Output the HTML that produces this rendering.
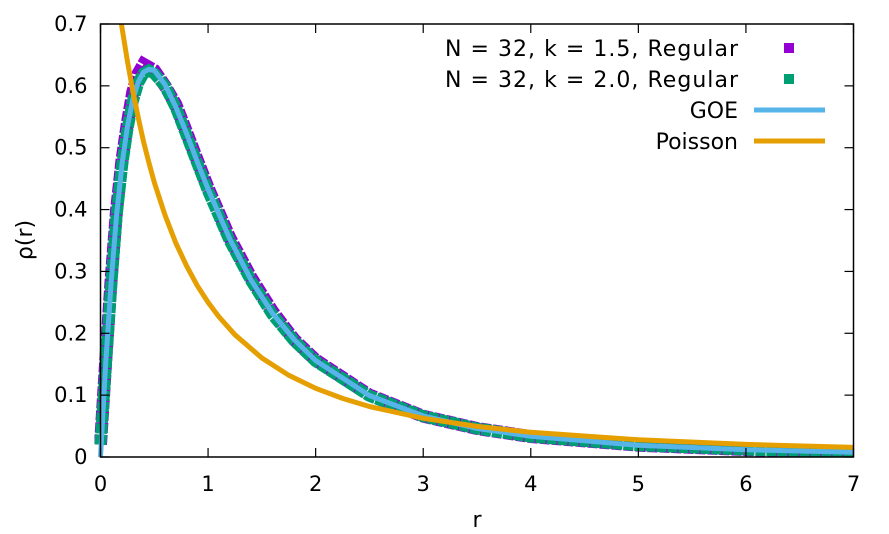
<!DOCTYPE html>
<html><head><meta charset="utf-8"><style>
body{margin:0;background:#fff}
svg{display:block;font-family:"DejaVu Sans","Liberation Sans",sans-serif}
</style></head><body>
<svg id="chart" width="889" height="534" viewBox="0 0 889 534">
<g id="plot"></g>
<g id="axes"></g>
<g id="legend"></g>
</svg>
<script>
const xTicks=[0,1,2,3,4,5,6,7];
const yTicks=[0,0.1,0.2,0.3,0.4,0.5,0.6,0.7];
const yTickLabels=["0","0.1","0.2","0.3","0.4","0.5","0.6","0.7"];
const dataR=[0,0.05,0.1,0.15,0.2,0.25,0.3,0.35,0.4,0.45,0.5,0.6,0.7,0.8,0.9,1.0,1.2,1.4,1.6,1.8,2.0,2.5,3.0,3.5,4,5,6,7];
const k15Values=[0.02,0.16,0.29,0.40,0.48,0.54,0.59,0.62,0.635,0.63,0.625,0.60,0.57,0.525,0.48,0.435,0.355,0.29,0.235,0.19,0.157,0.10,0.066,0.046,0.033,0.019,0.012,0.008];
const k20Values=[0.02,0.15,0.28,0.39,0.47,0.53,0.575,0.605,0.62,0.625,0.62,0.60,0.565,0.52,0.475,0.43,0.35,0.285,0.23,0.188,0.155,0.099,0.066,0.046,0.033,0.019,0.012,0.008];
const goeR=[0,0.05,0.1,0.15,0.2,0.25,0.3,0.35,0.4,0.45,0.5,0.6,0.7,0.8,0.9,1.0,1.2,1.4,1.6,1.8,2.0,2.5,3.0,3.5,4,5,6,7];
const goeValues=[0,0.156,0.286,0.391,0.473,0.534,0.578,0.606,0.622,0.627,0.625,0.602,0.566,0.523,0.477,0.433,0.353,0.286,0.232,0.190,0.156,0.0995,0.0665,0.0463,0.0334,0.0189,0.0117,0.0077];
const poissonR=[0.1,0.15,0.2,0.25,0.3,0.35,0.4,0.45,0.5,0.6,0.7,0.8,0.9,1.0,1.1,1.25,1.5,1.75,2,2.25,2.5,3,3.5,4,5,6,7];
const poissonValues=[0.826,0.756,0.694,0.64,0.592,0.549,0.510,0.476,0.444,0.391,0.346,0.309,0.277,0.25,0.227,0.1975,0.16,0.132,0.111,0.0947,0.0816,0.0625,0.0494,0.04,0.0278,0.0204,0.0156];

const L=100.5,R=853.5,T=24,B=457;
const sx=v=>L+(v/7)*(R-L);
const sy=v=>B-(v/0.7)*(B-T);
const NS="http://www.w3.org/2000/svg";
function mk(tag,attrs,parent){const e=document.createElementNS(NS,tag);for(const k in attrs)e.setAttribute(k,attrs[k]);parent.appendChild(e);return e;}
const plot=document.getElementById('plot'),axes=document.getElementById('axes'),legend=document.getElementById('legend');
const clip=mk('clipPath',{id:'c'},document.getElementById('chart'));
mk('rect',{x:L-6,y:T,width:R-L+6,height:B-T},clip);
plot.setAttribute('clip-path','url(#c)');
function pts(xs,ys){return xs.map((x,i)=>sx(x).toFixed(1)+','+sy(ys[i]).toFixed(1)).join(' ');}

let p=mk('polyline',{points:pts(dataR,k15Values),fill:'none',stroke:'#9400d3','stroke-width':13,'stroke-dasharray':'10 2'},plot);


p=mk('polyline',{points:pts(dataR,k20Values),fill:'none',stroke:'#009e73','stroke-width':12,'stroke-dasharray':'10 1'},plot);


p=mk('polyline',{points:pts(goeR,goeValues),fill:'none',stroke:'#56b4e9','stroke-width':5,'stroke-linejoin':'round'},plot);


p=mk('polyline',{points:pts(poissonR,poissonValues),fill:'none',stroke:'#e69f00','stroke-width':5,'stroke-linejoin':'round'},plot);



let fr=mk('rect',{x:L,y:T,width:R-L,height:B-T,fill:'none',stroke:'#000','stroke-width':1.5},axes);


xTicks.forEach(v=>{const x=sx(v);
 mk('line',{x1:x,y1:B,x2:x,y2:B-9,stroke:'#000','stroke-width':1.2},axes);
 mk('line',{x1:x,y1:T,x2:x,y2:T+9,stroke:'#000','stroke-width':1.2},axes);
 const t=mk('text',{x:x,y:B+34,'text-anchor':'middle','font-size':21},axes);t.textContent=v;
 
 
});
yTicks.forEach((v,i)=>{const y=sy(v);
 mk('line',{x1:L,y1:y,x2:L+9,y2:y,stroke:'#000','stroke-width':1.2},axes);
 mk('line',{x1:R,y1:y,x2:R-9,y2:y,stroke:'#000','stroke-width':1.2},axes);
 const t=mk('text',{x:L-13,y:y+7,'text-anchor':'end','font-size':21},axes);t.textContent=yTickLabels[i];
 
 
});
let t=mk('text',{x:477,y:527,'text-anchor':'middle','font-size':22},axes);t.textContent='r';


t=mk('text',{x:0,y:0,'text-anchor':'middle','font-size':22,transform:'translate(32,240) rotate(-90)'},axes);t.textContent='ρ(r)';



const legLabels=["N = 32, k = 1.5, Regular","N = 32, k = 2.0, Regular","GOE","Poisson"];
const legColors=["#9400d3","#009e73","#56b4e9","#e69f00"];
const legRowsY=[48,79,110,141];
legLabels.forEach((s,i)=>{
 const g=mk('g',{},legend);
 
 
 const y=legRowsY[i];
 const tx=mk('text',{x:738,y:y+8,'text-anchor':'end','font-size':22,textLength:i===0||i===1?293:null},g);tx.textContent=s;
 if(i>1) tx.removeAttribute('textLength');
 if(i<2) mk('rect',{x:784,y:y-5,width:10,height:10,fill:legColors[i]},g);
 else mk('line',{x1:754,y1:y,x2:825,y2:y,stroke:legColors[i],'stroke-width':5},g);
});
</script>
</body></html>
